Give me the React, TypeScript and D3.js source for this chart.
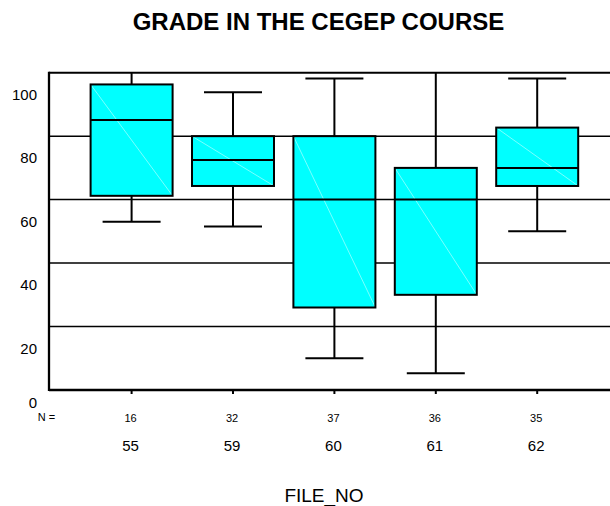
import React from "react";
import * as d3 from "d3";

const categories = ["55", "59", "60", "61", "62"];
const counts = [16, 32, 37, 36, 35];
const lowWhisker = [53, 51.5, 10, 5.3, 50];
const q1 = [61.2, 64.3, 26, 30, 64.3];
const median = [85.1, 72.5, 60, 60, 70];
const q3 = [96.3, 80, 80, 70, 82.7];
const highWhisker = [105, 93.8, 98.2, 105, 98.2];
const yTicks = [0, 20, 40, 60, 80, 100];
const gridValues = [20, 40, 60, 80];

const W = 610;
const H = 506;
const plotLeft = 49;
const plotRight = 620;
const plotTop = 72.7;
const plotBottom = 390;
const font = "Liberation Sans, Arial, Helvetica, sans-serif";

export default function App() {
  const y = d3.scaleLinear().domain([0, 100]).range([plotBottom, plotTop]);
  const x = d3.scalePoint<string>().domain(categories).range([131.6, 537.2]);
  const boxW = 82;
  const capW = 58;

  return (
    <svg
      width={W}
      height={H}
      style={{ position: "absolute", left: 0, top: 0, background: "#fff" }}
    >
      <defs>
        <clipPath id="plotclip">
          <rect x={plotLeft} y={plotTop} width={plotRight - plotLeft} height={plotBottom - plotTop} />
        </clipPath>
      </defs>
      <text
        x={318.5}
        y={21.7}
        textAnchor="middle"
        dominantBaseline="central"
        fontFamily={font}
        fontWeight="bold"
        fontSize={24}
      >
        GRADE IN THE CEGEP COURSE
      </text>

      <g clipPath="url(#plotclip)">
        {gridValues.map((v) => (
          <line
            key={v}
            x1={plotLeft}
            x2={plotRight}
            y1={y(v)}
            y2={y(v)}
            stroke="#000"
            strokeWidth={1.5}
          />
        ))}
        {categories.map((c, i) => {
          const cx = x(c)!;
          return (
            <g key={c}>
              <line x1={cx} x2={cx} y1={y(q3[i])} y2={y(highWhisker[i])} stroke="#000" strokeWidth={2} />
              <line x1={cx} x2={cx} y1={y(q1[i])} y2={y(lowWhisker[i])} stroke="#000" strokeWidth={2} />
              <line x1={cx - capW / 2} x2={cx + capW / 2} y1={y(highWhisker[i])} y2={y(highWhisker[i])} stroke="#000" strokeWidth={2} />
              <line x1={cx - capW / 2} x2={cx + capW / 2} y1={y(lowWhisker[i])} y2={y(lowWhisker[i])} stroke="#000" strokeWidth={2} />
              <rect
                x={cx - boxW / 2}
                y={y(q3[i])}
                width={boxW}
                height={y(q1[i]) - y(q3[i])}
                fill="#00ffff"
                stroke="none"
              />
              <line
                x1={cx - boxW / 2}
                y1={y(q3[i])}
                x2={cx + boxW / 2}
                y2={y(q1[i])}
                stroke="#ccffff"
                strokeWidth={0.6}
              />
              <rect
                x={cx - boxW / 2}
                y={y(q3[i])}
                width={boxW}
                height={y(q1[i]) - y(q3[i])}
                fill="none"
                stroke="#000"
                strokeWidth={2}
              />
              <line x1={cx - boxW / 2} x2={cx + boxW / 2} y1={y(median[i])} y2={y(median[i])} stroke="#000" strokeWidth={2} />
            </g>
          );
        })}
      </g>

      <line x1={plotLeft} x2={plotRight} y1={plotTop} y2={plotTop} stroke="#000" strokeWidth={2} />
      <line x1={plotLeft} x2={plotLeft} y1={plotTop - 1} y2={plotBottom + 1} stroke="#000" strokeWidth={2.3} />
      <line x1={plotLeft} x2={plotRight} y1={plotBottom} y2={plotBottom} stroke="#000" strokeWidth={2.3} />

      {yTicks.map((v) => (
        <text
          key={v}
          x={37}
          y={Math.min(y(v) + 21.5, 402.7)}
          textAnchor="end"
          dominantBaseline="central"
          fontFamily={font}
          fontSize={15}
        >
          {v}
        </text>
      ))}

      {categories.map((c, i) => {
        const cx = x(c)!;
        return (
          <g key={c}>
            <line x1={cx} x2={cx} y1={plotBottom} y2={plotBottom + 4} stroke="#000" strokeWidth={2} />
            <text x={cx - 1} y={417.5} textAnchor="middle" dominantBaseline="central" fontFamily={font} fontSize={11}>
              {counts[i]}
            </text>
            <text x={cx - 1} y={445.3} textAnchor="middle" dominantBaseline="central" fontFamily={font} fontSize={15}>
              {c}
            </text>
          </g>
        );
      })}
      <text x={46.5} y={416.8} textAnchor="middle" dominantBaseline="central" fontFamily={font} fontSize={11}>
        N =
      </text>

      <text x={324} y={495} textAnchor="middle" dominantBaseline="central" fontFamily={font} fontSize={19}>
        FILE_NO
      </text>
    </svg>
  );
}
